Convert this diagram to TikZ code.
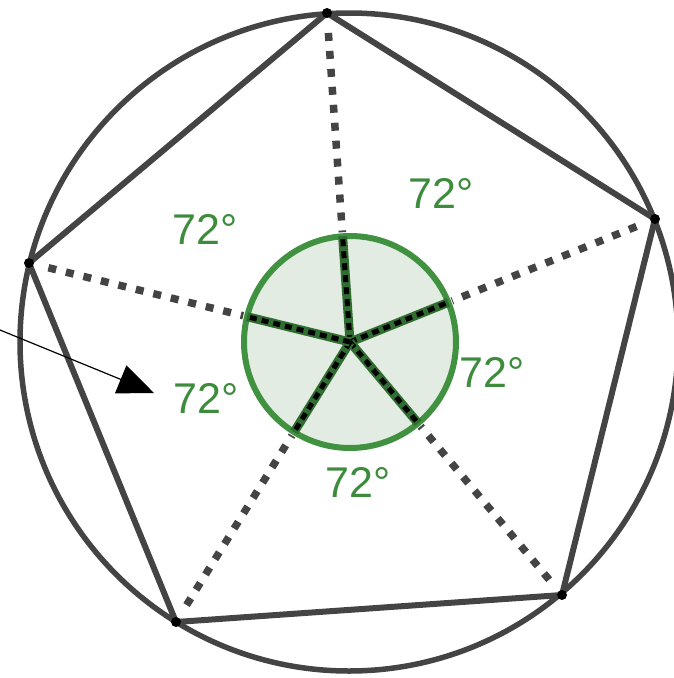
\documentclass[tikz,border=0pt]{standalone}
\usepackage{fontspec}
\setmainfont{Liberation Sans}
\usetikzlibrary{calc,arrows.meta}
\definecolor{ggreen}{RGB}{64,145,64}
\definecolor{gfill}{RGB}{226,236,226}
\definecolor{lgreen}{RGB}{60,140,60}
\definecolor{dgrey}{RGB}{68,68,68}
\tikzset{
  edge/.style={draw=dgrey, line width=6pt, line join=round},
  ring/.style={draw=dgrey, line width=5.5pt},
  ray/.style={draw=dgrey, line width=7.5pt, dash pattern=on 8pt off 10pt},
  gray2/.style={draw=ggreen!75!black, line width=9pt},
  blackdash/.style={draw=black, line width=5pt, dash pattern=on 7pt off 5pt},
  lab/.style={text=lgreen, inner sep=0pt, font=\fontsize{43}{43}\selectfont},
  vdot/.style={fill=black, circle, inner sep=0pt, minimum size=10pt}
}
\begin{document}
\begin{tikzpicture}[x=1pt,y=-1pt]
\useasboundingbox (0,0) rectangle (674,678);
\coordinate (O) at (350,342);
\coordinate (A) at (327,13);
\coordinate (B) at (655,219);
\coordinate (C) at (562,595);
\coordinate (D) at (176,622);
\coordinate (E) at (29,263);
% circumscribed circle
\draw[ring] (349,342) circle (329);
% pentagon
\draw[edge] (A) -- (B) -- (C) -- (D) -- (E) -- cycle;
% dotted rays
\foreach \v in {A,B,C,D,E}{
  \draw[ray] ($(\v)!20pt!(O)$) -- ($(O)!110pt!(\v)$);
}
% green circle
\draw[draw=ggreen, fill=gfill, line width=6pt] (O) circle (106);
\foreach \v in {A,B,C,D,E}{
  \draw[gray2] (O) -- ($(O)!106pt!(\v)$);
  \draw[blackdash] (O) -- ($(O)!106pt!(\v)$);
}
% vertices
\foreach \v in {A,B,C,D,E}{ \node[vdot] at (\v) {}; }
% labels
\node[lab] (l1) at (205,229) {72°};
\node[lab] (l2) at (441,193) {72°};
\node[lab] (l3) at (206,398) {72°};
\node[lab] (l4) at (492,372) {72°};
\node[lab] (l5) at (358,482) {72°};
% arrow
\coordinate (s) at (0,330);
\coordinate (t) at (154,393);
\draw[line width=1.2pt, -{Triangle[length=36pt,width=30pt]}] (s) -- (t);
\end{tikzpicture}
\end{document}
